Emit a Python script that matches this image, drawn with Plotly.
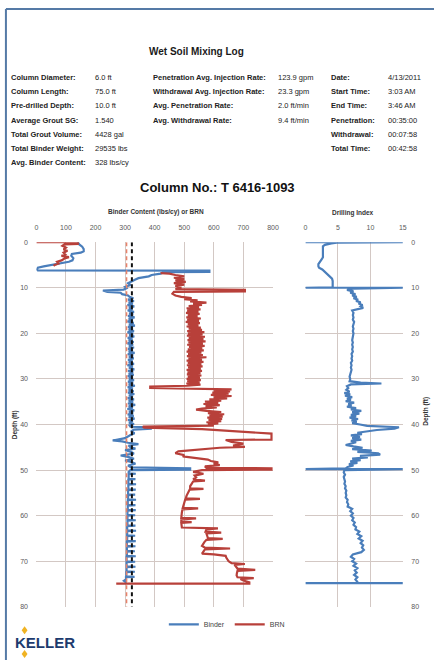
import plotly.graph_objects as go

W, H = 440, 663

# ---------------- data ----------------
binder_ticks = [0, 100, 200, 300, 400, 500, 600, 700, 800]
depth_ticks = [0, 10, 20, 30, 40, 50, 60, 70, 80]
di_ticks = [0, 5, 10, 15]

# Binder content (lbs/cy) vs depth (ft)
binder_depth = [0.0, 0.5, 1.0, 1.5, 2.0, 2.3, 2.6, 3.0, 3.5, 4.0, 4.3, 4.6, 5.0, 5.3, 5.6, 6.0, 6.2,
                6.25, 6.5, 6.6, 6.9, 7.2, 7.5, 7.9, 8.2, 8.6, 9.0, 9.4, 9.8, 10.1, 10.4, 10.6, 10.9, 11.1,
                11.4, 11.7,
                12.0, 12.3, 12.6, 12.9, 13.2, 13.5, 13.8, 14.1, 14.4, 14.7, 15.0, 15.3, 15.6, 15.9, 16.2,
                16.5, 16.8, 17.1, 17.4, 17.7, 18.0, 18.3, 18.6, 18.9, 19.2, 19.5, 19.8, 20.1, 20.4, 20.7,
                21.0, 21.3, 21.6, 21.9, 22.2, 22.5, 22.8, 23.1, 23.4, 23.7, 24.0, 24.3, 24.6, 24.9, 25.2,
                25.5, 25.8, 26.1, 26.4, 26.7, 27.0, 27.3, 27.6, 27.9, 28.2, 28.5, 28.8, 29.1, 29.4, 29.7,
                30.0, 30.3, 30.6, 30.9, 31.2, 31.5, 31.8, 32.1, 32.4, 32.7, 33.0, 33.3, 33.6, 33.9, 34.2,
                34.5, 34.8, 35.1, 35.4, 35.7, 36.0, 36.3, 36.6, 36.9, 37.2, 37.5, 37.8, 38.1, 38.4, 38.7,
                39.0, 39.3, 39.6, 39.9,
                40.2, 40.5, 40.6, 40.9, 41.1, 41.5, 41.9, 42.3, 42.7, 43.0, 43.3, 43.5, 43.7, 44.0, 44.3,
                44.6, 45.0, 45.3, 45.6, 46.0, 46.4, 46.8, 47.1, 47.5, 47.9, 48.2, 48.6, 49.0, 49.4, 49.6,
                49.9,
                50.0, 50.4, 50.7, 50.8, 50.9, 51.9, 52.0, 52.1, 53.0, 53.1, 53.2, 54.2, 54.3, 54.4, 55.3,
                55.4, 55.5, 56.4, 56.5, 56.6, 57.6, 57.7, 57.8, 58.7, 58.8, 58.9, 59.8, 59.9, 60.0, 60.9,
                61.0, 61.1, 62.1, 62.2, 62.3, 63.2, 63.3, 63.4, 64.3, 64.4, 64.5, 65.5, 65.6, 65.7, 66.6,
                66.7, 66.8, 67.7, 67.8, 67.9, 68.8, 68.9, 69.0, 70.0, 70.1, 70.2, 71.1, 71.2, 71.3, 72.2,
                72.3, 72.4, 73.3, 73.4, 73.5, 74.0, 74.3, 74.6, 74.9]
binder_value = [140, 145, 155, 160, 160, 150, 120, 118, 125, 122, 110, 80, 45, 25, 5, 2, 5,
                585, 585, 430, 420, 390, 380, 345, 335, 320, 310, 318, 300, 305, 295, 225, 240, 285,
                290, 310,
                315, 328, 310, 330, 312, 326, 308, 331, 313, 325, 309, 330, 314, 327, 310,
                332, 312, 326, 308, 329, 313, 333, 310, 326, 312, 330, 308, 327, 314, 331,
                309, 325, 312, 329, 308, 327, 313, 330, 310, 326, 312, 332, 309, 327, 313,
                329, 310, 325, 312, 330, 308, 326, 313, 331, 310, 327, 312, 329, 309, 326,
                313, 330, 310, 327, 312, 333, 309, 326, 312, 329, 310, 331, 313, 326, 309,
                330, 312, 327, 310, 334, 312, 326, 308, 331, 313, 327, 309, 329, 312, 332,
                310, 326, 313, 330,
                315, 318, 385, 390, 330, 320, 332, 318, 305, 300, 275, 258, 290, 310, 345,
                312, 318, 335, 300, 320, 330, 285, 310, 330, 300, 320, 335, 310, 320, 520,
                520,
                318, 312, 312, 336, 312, 312, 335, 311, 311, 337, 311, 311, 336, 310, 310,
                334, 310, 310, 337, 309, 309, 335, 309, 309, 336, 308, 308, 334, 308, 308,
                336, 308, 308, 335, 307, 307, 337, 307, 307, 334, 307, 307, 336, 306, 306,
                335, 306, 306, 333, 306, 306, 336, 305, 305, 334, 305, 305, 335, 305, 305,
                333, 304, 304, 332, 303, 303, 296, 302, 300]

# BRN vs depth (ft); None marks a gap in the record
brn_depth = [0.0, 0.0, 0.4, 0.5, 0.8, 1.2, 1.6, 1.9, 2.3, 2.7, 3.0, 3.3, 3.6, 4.0, 4.3, 4.7, 5.0, 5.2,
             None,
             6.8, 6.9, 7.2, 7.5, 7.8, 8.1, 8.4, 8.7, 9.0, 9.3, 9.6, 10.0, 10.3, 10.45, 10.8, 10.9, 11.3,
             11.7,
             12.0, 12.25, 12.5, 12.75, 13.0, 13.25, 13.5, 13.75, 14.0, 14.25, 14.5, 14.75, 15.0, 15.25,
             15.5, 15.75, 16.0, 16.25, 16.5, 16.75, 17.0, 17.25, 17.5, 17.75, 18.0, 18.25, 18.5, 18.75,
             19.0, 19.25, 19.5, 19.75, 20.0, 20.25, 20.5, 20.75, 21.0, 21.25, 21.5, 21.75, 22.0, 22.25,
             22.5, 22.75, 23.0, 23.25, 23.5, 23.75, 24.0, 24.25, 24.5, 24.75, 25.0, 25.25, 25.5, 25.75,
             26.0, 26.25, 26.5, 26.75, 27.0, 27.25, 27.5, 27.75, 28.0, 28.25, 28.5, 28.75, 29.0, 29.25,
             29.5, 29.75, 30.0, 30.25, 30.5, 30.75, 31.0, 31.25, 31.5,
             31.7, 32.0, 32.3,
             32.5, 32.75, 33.0, 33.25, 33.5, 33.75, 34.0, 34.25, 34.5, 34.75, 35.0, 35.25, 35.5, 35.75,
             36.0, 36.25, 36.5, 36.75, 37.0, 37.25, 37.5, 37.75, 38.0, 38.25, 38.5, 38.75, 39.0, 39.25,
             39.5, 39.75, 40.0, 40.25,
             40.45, 40.7, 41.0, 41.3, 42.0, 43.3, 43.4, 43.8, 44.2, 44.6, 44.9, 45.1, 45.5, 45.9, 46.3,
             46.7, 47.0, 47.3, 47.7, 48.0, 48.3, 48.6, 48.9, 49.2, 49.5, 49.6, 49.9,
             50.0, 50.4, 50.8, 51.2, 51.6, 52.0, 52.3, 52.5, 53.0, 53.5, 54.0, 54.1, 54.3, 55.0, 55.6,
             56.2, 56.3, 56.5, 57.2, 57.8, 58.3, 58.4, 58.6, 59.3, 60.0, 60.5, 60.6, 60.8, 61.3, 61.4,
             61.6, 62.0, 62.6, 62.8, 63.0, 63.5, 63.7, 63.9, 64.5, 64.9, 65.1, 65.3, 65.8, 66.2, 66.6,
             67.0, 67.2, 67.4, 67.9, 68.3, 68.5, 68.8, 69.2, 69.6, 70.0, 70.4, 70.6, 70.8, 71.2, 71.6,
             71.9, 72.1, 72.6, 73.1, 73.5, 73.7, 73.9, 74.2, 74.6, 74.9, 74.9]
brn_value = [0, 140, 140, 95, 88, 100, 92, 105, 92, 98, 85, 110, 95, 85, 70, 75, 62, 58,
             None,
             420, 450, 470, 500, 465, 500, 470, 505, 465, 500, 470, 490, 470, 705, 705, 465, 460,
             470,
             490, 525, 500, 545, 520, 575, 530, 560, 515, 550, 508, 555, 510, 548,
             506, 552, 512, 545, 507, 556, 510, 550, 505, 553, 512, 548, 508, 556,
             515, 560, 510, 568, 513, 562, 509, 570, 515, 565, 511, 572, 514, 563,
             510, 569, 516, 561, 512, 566, 508, 558, 513, 563, 509, 575, 514, 560,
             508, 565, 512, 558, 509, 562, 513, 556, 508, 560, 511, 555, 509, 558,
             512, 553, 508, 556, 510, 552, 507, 555, 510,
             385, 385, 660,
             600, 655, 595, 650, 590, 660, 600, 645, 585, 625, 570, 615, 565, 620,
             572, 610, 560, 540, 575, 625, 580, 635, 585, 630, 578, 628, 582, 625,
             575, 615, 580, 600,
             360, 365, 560, 640, 795, 795, 640, 660, 700, 665, 705, 620, 540, 480, 470,
             500, 495, 530, 580, 590, 615, 600, 620, 570, 575, 795, 795,
             560, 530, 565, 535, 540, 530, 570, 530, 525, 520, 520, 565, 518, 512, 508,
             505, 553, 503, 500, 497, 495, 547, 494, 492, 491, 490, 540, 490, 490, 525,
             490, 490, 492, 614, 575, 572, 625, 575, 578, 580, 630, 575, 568, 565, 560,
             570, 655, 570, 565, 560, 600, 640, 642, 645, 650, 660, 705, 670, 675, 680,
             740, 680, 678, 677, 680, 735, 690, 700, 720, 720, 270]

# Drilling index vs depth (ft)
di_depth = [0.0, 0.0, 0.1, 0.3, 0.6, 0.9, 1.5, 2.5, 3.3, 3.8, 4.3, 4.8, 5.3, 5.6, 6.0, 6.5, 7.0, 7.5,
            8.0, 8.5, 9.0, 9.5, 9.9, 10.0, 10.0,
            10.2, 10.5, 10.8, 11.1, 11.4, 11.7, 12.0, 12.3, 12.6, 12.9, 13.2, 13.5, 13.8, 14.1, 14.4,
            14.7, 15.0, 15.5, 16.0, 16.5, 17.0, 17.5, 18.0, 18.5, 19.0, 19.5, 20.0, 20.5, 21.0, 21.5,
            22.0, 22.5, 23.0, 23.5, 24.0, 24.5, 25.0, 25.5, 26.0, 26.5, 27.0, 27.5, 28.0, 28.5, 29.0,
            29.5, 30.0, 30.5, 30.8, 31.0, 31.2, 31.6, 32.0, 32.4, 32.8, 33.1, 33.4, 33.7, 34.0, 34.3,
            34.6, 34.9, 35.2, 35.5, 35.8, 36.1, 36.4, 36.7, 37.0, 37.3, 37.6, 37.9, 38.2, 38.5, 38.8,
            39.1, 39.4, 39.7, 40.0, 40.3, 40.6, 40.9, 41.2, 41.5, 41.8, 42.1, 42.4, 42.7, 43.0, 43.3,
            43.6, 43.9, 44.2, 44.5, 44.8, 45.1, 45.4, 45.7, 46.0, 46.3, 46.6, 46.9, 47.2, 47.5, 47.8,
            48.1, 48.4, 48.7, 49.0, 49.3, 49.6, 49.8, 49.8,
            50.0, 50.5, 51.0, 51.5, 52.0, 52.5, 53.0, 53.5, 54.0, 54.5, 55.0, 55.5, 56.0, 56.5, 57.0,
            57.5, 58.0, 58.5, 59.0, 59.5, 60.0, 60.5, 61.0, 61.5, 62.0, 62.5, 63.0, 63.5, 64.0, 64.5,
            65.0, 65.5, 66.0, 66.5, 67.0, 67.5, 68.0, 68.5, 69.0, 69.5, 70.0, 70.5, 71.0, 71.5, 72.0,
            72.5, 73.0, 73.5, 74.0, 74.5, 74.8, 74.8, 74.8]
di_value = [0, 15, 4.8, 4.0, 3.0, 2.7, 2.7, 2.7, 2.7, 2.5, 2.2, 2.0, 2.0, 2.1, 2.6, 3.0, 3.4, 3.7,
            4.1, 4.2, 4.2, 4.2, 4.2, 0, 15,
            7.3, 6.4, 7.4, 6.9, 7.7, 7.2, 7.9, 7.4, 8.1, 7.8, 8.5, 8.2, 8.8, 8.5, 8.9,
            7.8, 7.2, 7.4, 7.3, 7.4, 7.3, 7.5, 7.4, 7.3, 7.4, 7.3, 7.4, 7.3, 7.3, 7.2,
            7.3, 7.2, 7.3, 7.2, 7.3, 7.1, 7.2, 7.1, 7.2, 7.0, 7.1, 7.0, 7.1, 7.0, 7.0,
            6.8, 6.9, 6.8, 8.5, 11.7, 7.0, 6.4, 6.6, 6.3, 6.8, 6.0, 6.9, 6.1, 7.2, 6.4,
            7.0, 6.2, 7.5, 6.6, 7.1, 6.4, 7.8, 7.0, 8.6, 7.2, 8.3, 7.0, 7.8, 6.8, 8.1,
            7.1, 7.9, 7.2, 8.4, 9.5, 14.4, 13.7, 11.0, 9.2, 8.0, 8.7, 7.0, 8.4, 7.2, 8.6,
            7.0, 7.8, 6.8, 6.2, 7.4, 8.8, 7.2, 10.2, 8.0, 11.2, 11.5, 8.4, 9.6, 7.2, 8.5,
            6.9, 8.0, 6.7, 7.4, 6.5, 6.2, 0, 15,
            6.0, 5.9, 6.1, 5.9, 6.0, 6.1, 6.0, 6.2, 6.1, 6.3, 6.2, 6.3, 6.2, 6.5, 6.4,
            6.6, 6.5, 7.2, 6.9, 7.3, 7.0, 7.4, 7.2, 7.6, 7.4, 7.8, 7.7, 8.3, 8.0, 8.6,
            8.2, 8.8, 8.5, 8.9, 8.7, 9.0, 8.6, 7.3, 7.0, 7.5, 7.2, 7.8, 7.4, 8.0, 7.6,
            7.9, 7.5, 8.0, 7.7, 8.0, 8.0, 0, 15]

# reference lines (lbs/cy)
ref_depth = [0, 80]
design_binder = [305, 305]
avg_binder = [323, 323]

left_labels = ["Column Diameter:", "Column Length:", "Pre-drilled Depth:", "Average Grout SG:",
               "Total Grout Volume:", "Total Binder Weight:", "Avg. Binder Content:"]
left_values = ["6.0 ft", "75.0 ft", "10.0 ft", "1.540", "4428 gal", "29535 lbs", "328 lbs/cy"]
mid_labels = ["Penetration Avg. Injection Rate:", "Withdrawal Avg. Injection Rate:",
              "Avg. Penetration Rate:", "Avg. Withdrawal Rate:"]
mid_values = ["123.9 gpm", "23.3 gpm", "2.0 ft/min", "9.4 ft/min"]
right_labels = ["Date:", "Start Time:", "End Time:", "Penetration:", "Withdrawal:", "Total Time:"]
right_values = ["4/13/2011", "3:03 AM", "3:46 AM", "00:35:00", "00:07:58", "00:42:58"]

# ---------------- figure ----------------
FONT = "Liberation Sans, Arial, sans-serif"
BLUE = "#4A7EBB"
RED = "#B8403A"
GRID = "#d3c8c4"
TICK = "#5a5a5a"


def px(x):
    return x / W


def py(y):
    return 1 - y / H


fig = go.Figure()
fig.add_trace(go.Scatter(x=binder_value, y=binder_depth, mode="lines", name="Binder",
                         line=dict(color=BLUE, width=2.2), xaxis="x", yaxis="y"))
fig.add_trace(go.Scatter(x=brn_value, y=brn_depth, mode="lines", name="BRN",
                         line=dict(color=RED, width=2.2), xaxis="x", yaxis="y", connectgaps=False))
fig.add_trace(go.Scatter(x=design_binder, y=ref_depth, mode="lines", showlegend=False,
                         line=dict(color="#E8826A", width=1.5, dash="4px,3px"), xaxis="x", yaxis="y"))
fig.add_trace(go.Scatter(x=avg_binder, y=ref_depth, mode="lines", showlegend=False,
                         line=dict(color="#111111", width=2, dash="4px,3px"), xaxis="x", yaxis="y"))
fig.add_trace(go.Scatter(x=di_value, y=di_depth, mode="lines", showlegend=False,
                         line=dict(color=BLUE, width=2.2), xaxis="x2", yaxis="y2"))

y_dom = [py(609.3), py(240.7)]
common_ax = dict(showgrid=True, gridcolor=GRID, gridwidth=1, zeroline=False, showline=False,
                 tickfont=dict(family=FONT, size=7, color=TICK), ticks="outside",
                 tickcolor="rgba(0,0,0,0)", fixedrange=True)

fig.update_layout(
    width=W, height=H,
    margin=dict(l=0, r=0, t=0, b=0),
    paper_bgcolor="white", plot_bgcolor="white",
    font=dict(family=FONT, color="#222"),
    xaxis=dict(domain=[px(35), px(276)], range=[0, 800], tickvals=binder_ticks, side="top",
               anchor="y", ticklen=8, **common_ax),
    yaxis=dict(domain=y_dom, range=[80, 0], tickvals=depth_ticks, anchor="x", ticklen=6,
               **common_ax),
    xaxis2=dict(domain=[px(309), px(408.3)], range=[0, 15], tickvals=di_ticks, side="top",
                anchor="y2", ticklen=8, **common_ax),
    yaxis2=dict(domain=y_dom, range=[80, 0], tickvals=depth_ticks, anchor="x2", side="right",
                ticklen=6, **common_ax),
    legend=dict(orientation="h", x=px(229), xanchor="center", y=py(627), yanchor="middle",
                font=dict(family=FONT, size=7, color="#444"), bgcolor="rgba(0,0,0,0)",
                tracegroupgap=0),
    showlegend=True,
)

ann = []


def text(x, y, s, size=8, bold=False, anchor="left", color="#222", angle=0):
    ann.append(dict(x=px(x), y=py(y), xref="paper", yref="paper", text=f"<b>{s}</b>" if bold else s,
                    showarrow=False, xanchor=anchor, yanchor="middle", textangle=angle,
                    font=dict(family=FONT, size=size, color=color)))


text(198, 48, "Wet Soil Mixing Log", size=10, bold=True, anchor="center", color="#1a1a1a")
rows = [74.5, 88.8, 103, 117.3, 131.7, 145.7, 159.7]
for i, (l, v) in enumerate(zip(left_labels, left_values)):
    text(7, rows[i], l, size=7.5, bold=True)
    text(93, rows[i], v, size=7.5)
for i, (l, v) in enumerate(zip(mid_labels, mid_values)):
    text(152, rows[i], l, size=7.5, bold=True)
    text(279, rows[i], v, size=7.5)
for i, (l, v) in enumerate(zip(right_labels, right_values)):
    text(333, rows[i], l, size=7.5, bold=True)
    text(391, rows[i], v, size=7.5)

text(219, 185, "Column No.: T 6416-1093", size=13, bold=True, anchor="center", color="#111")
text(157, 210, "Binder Content (lbs/cy) or BRN", size=6.5, bold=True, anchor="center", color="#333")
text(358, 211, "Drilling Index", size=6.5, bold=True, anchor="center", color="#333")
text(13, 425, "Depth (ft)", size=6.5, bold=True, anchor="center", color="#333", angle=-90)
text(432, 412, "Depth (ft)", size=6.5, bold=True, anchor="center", color="#333", angle=-90)
text(11, 645, "KELLER", size=15, bold=True, anchor="left", color="#1d3b6e")
fig.update_layout(annotations=ann)

shapes = [
    dict(type="line", xref="paper", yref="paper", x0=px(4), x1=1, y0=py(5), y1=py(5),
         line=dict(color="#557aa6", width=2)),
    dict(type="line", xref="paper", yref="paper", x0=px(4), x1=px(4), y0=py(5), y1=0,
         line=dict(color="#557aa6", width=2)),
    dict(type="path", xref="paper", yref="paper",
         path=f"M {px(23)},{py(629)} L {px(26)},{py(633)} L {px(23)},{py(637)} L {px(20)},{py(633)} Z",
         fillcolor="#F0B323", line=dict(width=0)),
    dict(type="path", xref="paper", yref="paper",
         path=f"M {px(23)},{py(653)} L {px(26)},{py(657)} L {px(23)},{py(661)} L {px(20)},{py(657)} Z",
         fillcolor="#F0B323", line=dict(width=0)),
]
fig.update_layout(shapes=shapes)

fig.write_html("out.html", config={"displayModeBar": False},
               post_script="document.body.style.margin='0';")
